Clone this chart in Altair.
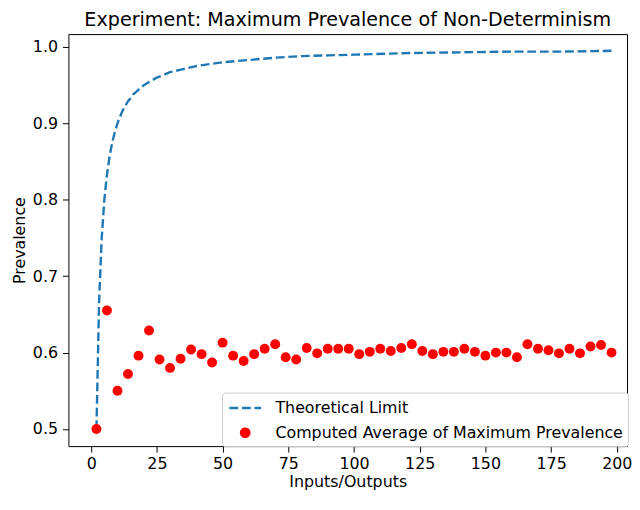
import altair as alt
import pandas as pd

# Theoretical limit curve
limit_x = [2, 3, 4, 5, 6, 7, 8, 9, 10, 11, 12, 13, 14, 15, 16, 17, 18, 19, 20,
           25, 30, 35, 40, 50, 60, 70, 80, 90, 100, 120, 140, 160, 180, 198]
limit_y = [0.500, 0.667, 0.750, 0.800, 0.833, 0.857, 0.875, 0.889, 0.900, 0.909,
           0.917, 0.923, 0.929, 0.933, 0.938, 0.941, 0.944, 0.947, 0.950,
           0.960, 0.967, 0.971, 0.975, 0.980, 0.983, 0.986, 0.988, 0.989, 0.990,
           0.992, 0.993, 0.994, 0.994, 0.995]

# Computed averages
comp_x = list(range(2, 199, 4))
comp_y = [0.500, 0.655, 0.550, 0.572, 0.596, 0.629, 0.591, 0.580, 0.592, 0.604,
          0.598, 0.587, 0.613, 0.596, 0.589, 0.598, 0.605, 0.611, 0.594, 0.591,
          0.606, 0.599, 0.605, 0.605, 0.605, 0.598, 0.601, 0.605, 0.602, 0.606,
          0.611, 0.602, 0.598, 0.601, 0.601, 0.605, 0.601, 0.596, 0.600, 0.600,
          0.594, 0.611, 0.605, 0.603, 0.599, 0.605, 0.599, 0.608, 0.610, 0.600]

series_names = ["Theoretical Limit", "Computed Average of Maximum Prevalence"]
stroke_colors = ["#1f77b4", "#ff0000"]
fill_colors = ["transparent", "#ff0000"]
dashes = [[8.9, 3.8], [1, 0]]
# legend glyphs (unit = half the legend symbol box)
LEG_LINE = "M-0.8,0L2.4,0"
LEG_CIRCLE = "M0.38,0A0.42,0.42,0,1,0,1.22,0A0.42,0.42,0,1,0,0.38,0Z"
shapes = [LEG_LINE, LEG_CIRCLE]

df_line = pd.DataFrame({"x": limit_x, "y": limit_y, "series": series_names[0]})
df_pts = pd.DataFrame({"x": comp_x, "y": comp_y, "series": series_names[1]})

FONT = "DejaVu Sans"

xscale = alt.Scale(domain=[-8.67, 203.9], nice=False, zero=False)
yscale = alt.Scale(domain=[0.4776, 1.0169], nice=False, zero=False)
xaxis = alt.Axis(title="Inputs/Outputs", values=[0, 25, 50, 75, 100, 125, 150, 175, 200],
                 grid=False, domain=False, tickSize=6, tickColor="#000", labelPadding=4,
                 titlePadding=2)
yaxis = alt.Axis(title="Prevalence", values=[0.5, 0.6, 0.7, 0.8, 0.9, 1.0], format=".1f",
                 grid=False, domain=False, tickSize=6, tickColor="#000", labelPadding=5,
                 titlePadding=5)

legend = alt.Legend(
    title=None, orient="none", legendX=155, legendY=362,
    symbolSize=400, symbolStrokeWidth=2.4,
    labelFont=FONT, labelFontSize=16, labelColor="#000", labelLimit=600,
    labelOffset=27, rowPadding=5,
    strokeColor="#cccccc", fillColor="#ffffff", cornerRadius=3, padding=4,
)

stroke = alt.Stroke("series:N", scale=alt.Scale(domain=series_names, range=stroke_colors), legend=legend)
fill = alt.Fill("series:N", scale=alt.Scale(domain=series_names, range=fill_colors), legend=legend)
dash = alt.StrokeDash("series:N", scale=alt.Scale(domain=series_names, range=dashes), legend=legend)
shape = alt.Shape("series:N", scale=alt.Scale(domain=series_names, range=shapes), legend=legend)

X = alt.X("x:Q", scale=xscale, axis=xaxis)
Y = alt.Y("y:Q", scale=yscale, axis=yaxis)

line = alt.Chart(df_line).mark_line(strokeWidth=2.4).encode(
    x=X, y=Y, stroke=stroke, strokeDash=dash,
)

points = alt.Chart(df_pts).mark_point(
    filled=True, shape="circle", size=100, color="#ff0000", opacity=1, strokeWidth=0
).encode(x=X, y=Y)

# legend-only layer (no rows drawn)
legend_layer = alt.Chart(df_pts).transform_filter("false").mark_point(
    filled=True, opacity=1
).encode(x=X, y=Y, fill=fill, stroke=stroke, shape=shape)

chart = alt.layer(line, points, legend_layer).properties(
    width=564, height=416,
    title=alt.Title("Experiment: Maximum Prevalence of Non-Determinism",
                    font=FONT, fontSize=19.3, fontWeight="normal", color="#000", offset=4),
    padding={"left": 3, "top": 0, "right": 0, "bottom": 0},
).configure_view(stroke="#000", strokeWidth=1).configure_axis(
    labelFont=FONT, labelFontSize=16, labelColor="#000",
    titleFont=FONT, titleFontSize=16, titleFontWeight="normal", titleColor="#000",
)

chart.save("out.html", embed_options={"renderer": "svg", "actions": False})
